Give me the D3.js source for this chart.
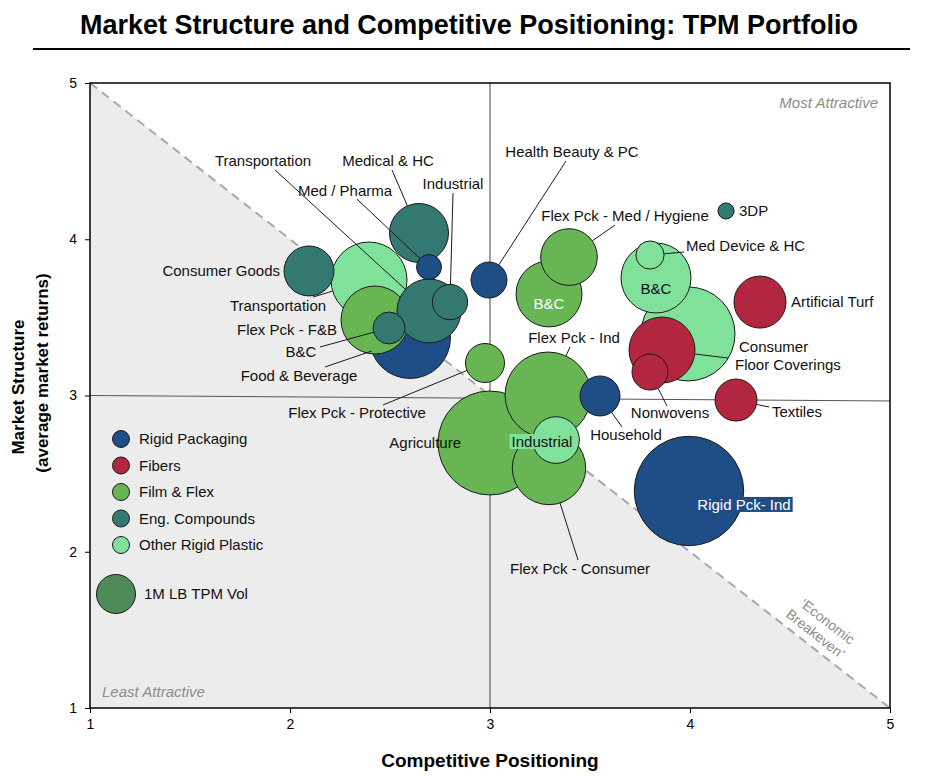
<!DOCTYPE html>
<html>
<head>
	<meta charset="UTF-8">
	<script src="https://d3js.org/d3.v7.min.js"></script>
	<style>
		body{
			margin: 0;
			background-color: #ffffff;
		}
		text{
			font-family: "Liberation Sans", Arial, sans-serif;
		}
	</style>
</head>
<body>
	<div class="chart"></div>
	<script type="text/javascript">
		// ---- data ----
		var segments = ["Rigid Packaging", "Fibers", "Film & Flex", "Eng. Compounds", "Other Rigid Plastic"];

		var markets = ["Medical & HC", "Med / Pharma", "Consumer Goods", "Transportation", "Flex Pck - F&B",
			"B&C", "Food & Beverage", "Transportation", "Industrial", "Health Beauty & PC",
			"Flex Pck - Protective", "Agriculture", "Flex Pck - Ind", "Industrial", "Flex Pck - Consumer",
			"Household", "Textiles", "Nonwovens", "Floor Coverings", "Consumer",
			"Rigid Pck- Ind", "Flex Pck - Med / Hygiene", "B&C", "3DP", "Med Device & HC",
			"B&C", "Artificial Turf"];

		// index into segments
		var marketSegment = [3, 0, 3, 4, 2,
			3, 0, 3, 3, 0,
			2, 2, 2, 4, 2,
			0, 1, 1, 1, 4,
			0, 2, 2, 3, 4,
			4, 1];

		var competitivePositioning = [2.645, 2.695, 2.095, 2.395, 2.425,
			2.495, 2.60, 2.695, 2.80, 2.995,
			2.975, 3.00, 3.29, 3.33, 3.295,
			3.55, 4.23, 3.80, 3.86, 3.99,
			3.995, 3.395, 3.295, 4.18, 3.80,
			3.83, 4.35];

		var marketStructure = [4.04, 3.822, 3.797, 3.739, 3.483,
			3.432, 3.368, 3.541, 3.598, 3.739,
			3.208, 2.696, 3.003, 2.715, 2.536,
			2.997, 2.971, 3.15, 3.291, 3.394,
			2.389, 3.886, 3.65, 4.181, 3.899,
			3.752, 3.598];

		// TPM volume, million lb
		var volumeMlb = [2.29, 0.41, 1.64, 3.80, 3.04,
			0.67, 4.31, 2.69, 0.82, 0.85,
			1.00, 7.11, 4.86, 1.43, 3.54,
			1.05, 1.16, 0.85, 2.86, 5.81,
			7.87, 2.11, 2.86, 0.17, 0.52,
			3.22, 1.78];

		var xTicks = [1, 2, 3, 4, 5];
		var yTicks = [1, 2, 3, 4, 5];

		// ---- styles / layout ----
		var segmentColors = ["#1f4e86", "#b22640", "#67b653", "#347872", "#80e29a"];

		// label offsets from bubble centre (px), leader start offset, anchor
		var labelLayout = [
			{dx: -31, dy: -67, anchor: "middle", lead: [-27, -63]},
			{dx: -84, dy: -71, anchor: "middle", lead: [-72, -68]},
			{dx: -29, dy: 5, anchor: "end", lead: null},
			{dx: -91, dy: 31, anchor: "middle", lead: [-56, 17]},
			{dx: -38, dy: 15, anchor: "end", lead: null},
			{dx: -88, dy: 29, anchor: "middle", lead: [-69, 19]},
			{dx: -111, dy: 43, anchor: "middle", lead: [-85, 29]},
			{dx: -166, dy: -145, anchor: "middle", lead: [-154, -141]},
			{dx: 3, dy: -113, anchor: "middle", lead: [3, -109]},
			{dx: 83, dy: -123, anchor: "middle", lead: [77, -119]},
			{dx: -128, dy: 55, anchor: "middle", lead: [-102, 42]},
			{dx: -29, dy: 5, anchor: "end", lead: null},
			{dx: 26, dy: -52, anchor: "middle", lead: [22, -48]},
			{dx: -14, dy: 7, anchor: "middle", lead: null, bg: "#80e29a"},
			{dx: 31, dy: 106, anchor: "middle", lead: [29, 92]},
			{dx: 26, dy: 44, anchor: "middle", lead: [22, 31]},
			{dx: 36, dy: 17, anchor: "start", lead: [33, 7]},
			{dx: 20, dy: 46, anchor: "middle", lead: [17, 34]},
			{dx: 73, dy: 20, anchor: "start", lead: [66, 8]},
			{dx: 51, dy: 18, anchor: "start", lead: null},
			{dx: 55, dy: 19, anchor: "middle", lead: null, bg: "#1f4e86", color: "#ffffff"},
			{dx: 56, dy: -36, anchor: "middle", lead: [46, -32]},
			{dx: 0, dy: 15, anchor: "middle", lead: null, color: "#ffffff"},
			{dx: 13, dy: 5, anchor: "start", lead: null},
			{dx: 36, dy: -4, anchor: "start", lead: [34, -3]},
			{dx: 0, dy: 16, anchor: "middle", lead: null},
			{dx: 31, dy: 5, anchor: "start", lead: null}
		];

		var w = 930;
		var h = 776;
		var l = 90, r = 890, t = 83, b = 708;

		var xScale = d3.scaleLinear().domain([1, 5]).range([l, r]);
		var yScale = d3.scaleLinear().domain([1, 5]).range([b, t]);
		var rScale = d3.scaleSqrt().domain([0, 1]).range([0, 19.5]);

		var svg = d3.select("div.chart")
					.append("svg")
					.attr("width", w)
					.attr("height", h);

		//title
		svg.append("text")
		   .attr("x", 469).attr("y", 34)
		   .attr("text-anchor", "middle")
		   .attr("textLength", 778)
		   .attr("lengthAdjust", "spacingAndGlyphs")
		   .style("font-family", "'Liberation Sans Narrow', 'Arial Narrow', 'Liberation Sans', sans-serif")
		   .style("font-size", "28px")
		   .style("font-weight", "bold")
		   .attr("fill", "#000")
		   .text("Market Structure and Competitive Positioning: TPM Portfolio");
		svg.append("line")
		   .attr("x1", 33).attr("x2", 910).attr("y1", 49).attr("y2", 49)
		   .attr("stroke", "#000").attr("stroke-width", 2);

		//least attractive triangle
		svg.append("path")
		   .attr("d", d3.line()([[xScale(1), yScale(5)], [xScale(5), yScale(1)], [xScale(1), yScale(1)]]) + "Z")
		   .attr("fill", "#ebeceb");

		//quadrant lines
		svg.append("line")
		   .attr("x1", xScale(3)).attr("x2", xScale(3))
		   .attr("y1", yScale(5)).attr("y2", yScale(1))
		   .attr("stroke", "#444").attr("stroke-width", 1);
		svg.append("line")
		   .attr("x1", xScale(1)).attr("x2", xScale(5))
		   .attr("y1", yScale(3)).attr("y2", yScale(2.965))
		   .attr("stroke", "#555").attr("stroke-width", 1);

		//economic breakeven diagonal
		svg.append("line")
		   .attr("x1", xScale(1)).attr("y1", yScale(5))
		   .attr("x2", xScale(5)).attr("y2", yScale(1))
		   .attr("stroke", "#a8a8a8").attr("stroke-width", 2)
		   .attr("stroke-dasharray", "9,6");

		var angle = Math.atan2(yScale(1) - yScale(5), xScale(5) - xScale(1)) * 180 / Math.PI;
		[["\u2018Economic", 4.6875, 1.554], ["Breakeven\u2019", 4.6275, 1.475]].forEach(function(s) {
			svg.append("text")
			   .attr("transform", "translate(" + xScale(s[1]) + "," + yScale(s[2]) + ") rotate(" + angle + ")")
			   .attr("text-anchor", "middle")
			   .attr("dy", "0.35em")
			   .style("font-size", "14px")
			   .attr("fill", "#8c8c8c")
			   .text(s[0]);
		});

		svg.append("text")
		   .attr("x", 878).attr("y", 108)
		   .attr("text-anchor", "end")
		   .style("font-size", "15px").style("font-style", "italic")
		   .attr("fill", "#8c8c8c")
		   .text("Most Attractive");
		svg.append("text")
		   .attr("x", 102).attr("y", 697)
		   .style("font-size", "15px").style("font-style", "italic")
		   .attr("fill", "#8c8c8c")
		   .text("Least Attractive");

		//bubbles
		var bubbles = markets.map(function(name, i) {
			return {
				name: name,
				seg: marketSegment[i],
				cx: xScale(competitivePositioning[i]),
				cy: yScale(marketStructure[i]),
				r: rScale(volumeMlb[i]),
				lay: labelLayout[i]
			};
		});
		var ordered = bubbles.slice().sort(function(a, b) { return b.r - a.r; });

		svg.append("g").selectAll("circle")
		   .data(ordered)
		   .enter()
		   .append("circle")
		   .attr("cx", function(d) { return d.cx; })
		   .attr("cy", function(d) { return d.cy; })
		   .attr("r", function(d) { return d.r; })
		   .attr("fill", function(d) { return segmentColors[d.seg]; })
		   .attr("stroke", "#1a1a1a")
		   .attr("stroke-width", 1);

		//leader lines
		svg.append("g").selectAll("line")
		   .data(bubbles.filter(function(d) { return d.lay.lead; }))
		   .enter()
		   .append("line")
		   .attr("x1", function(d) { return d.cx + d.lay.lead[0]; })
		   .attr("y1", function(d) { return d.cy + d.lay.lead[1]; })
		   .attr("x2", function(d) {
				var len = Math.hypot(d.lay.lead[0], d.lay.lead[1]);
				return d.cx + d.r * d.lay.lead[0] / len;
		   })
		   .attr("y2", function(d) {
				var len = Math.hypot(d.lay.lead[0], d.lay.lead[1]);
				return d.cy + d.r * d.lay.lead[1] / len;
		   })
		   .attr("stroke", "#1a1a1a")
		   .attr("stroke-width", 1);

		//labels
		var labels = svg.append("g").selectAll("text")
		   .data(bubbles)
		   .enter()
		   .append("text")
		   .attr("x", function(d) { return d.cx + d.lay.dx; })
		   .attr("y", function(d) { return d.cy + d.lay.dy; })
		   .attr("text-anchor", function(d) { return d.lay.anchor; })
		   .style("font-size", "15px")
		   .attr("fill", function(d) { return d.lay.color || "#111"; })
		   .text(function(d) { return d.name; });

		labels.each(function(d) {
			if (!d.lay.bg) return;
			var bb = this.getBBox();
			d3.select(this.parentNode).insert("rect", function() { return this; }.bind(this))
			  .attr("x", bb.x - 2).attr("y", bb.y + 1)
			  .attr("width", bb.width + 4).attr("height", bb.height - 2)
			  .attr("fill", d.lay.bg);
		});

		//frame
		svg.append("rect")
		   .attr("x", l).attr("y", t)
		   .attr("width", r - l).attr("height", b - t)
		   .attr("fill", "none")
		   .attr("stroke", "#000").attr("stroke-width", 1.5);

		//axes
		var yAxis = d3.axisLeft(yScale).tickValues(yTicks).tickSize(5).tickPadding(8).tickFormat(d3.format("d"));
		var xAxis = d3.axisBottom(xScale).tickValues(xTicks).tickSize(5).tickPadding(6).tickFormat(d3.format("d"));
		var gy = svg.append("g").attr("transform", "translate(" + l + ",0)").call(yAxis);
		var gx = svg.append("g").attr("transform", "translate(0," + b + ")").call(xAxis);
		[gx, gy].forEach(function(g) {
			g.select(".domain").remove();
			g.selectAll("text").style("font-size", "14px").attr("fill", "#000")
			 .style("font-family", "'Liberation Sans', Arial, sans-serif");
			g.selectAll("line").attr("stroke", "#000");
		});

		//axis titles
		svg.append("text")
		   .attr("x", (l + r) / 2).attr("y", 767)
		   .attr("text-anchor", "middle")
		   .style("font-size", "19px").style("font-weight", "bold")
		   .text("Competitive Positioning");
		svg.append("text")
		   .attr("transform", "translate(24,387) rotate(-90)")
		   .attr("text-anchor", "middle")
		   .style("font-size", "17px").style("font-weight", "bold")
		   .text("Market Structure");
		svg.append("text")
		   .attr("transform", "translate(48,373) rotate(-90)")
		   .attr("text-anchor", "middle")
		   .style("font-size", "17px").style("font-weight", "bold")
		   .text("(average market returns)");

		//legend
		var legend = svg.append("g").selectAll("g")
		   .data(segments)
		   .enter()
		   .append("g")
		   .attr("transform", function(d, i) { return "translate(121," + (439 + i * 26.5) + ")"; });
		legend.append("circle")
		   .attr("r", 8.5)
		   .attr("fill", function(d, i) { return segmentColors[i]; })
		   .attr("stroke", "#1a1a1a").attr("stroke-width", 1);
		legend.append("text")
		   .attr("x", 18).attr("dy", "0.35em")
		   .style("font-size", "15px")
		   .attr("fill", "#111")
		   .text(function(d) { return d; });

		svg.append("circle")
		   .attr("cx", 116).attr("cy", 594)
		   .attr("r", rScale(1))
		   .attr("fill", "#4f8a5a")
		   .attr("stroke", "#1a1a1a").attr("stroke-width", 1);
		svg.append("text")
		   .attr("x", 144).attr("y", 594).attr("dy", "0.35em")
		   .style("font-size", "15px")
		   .attr("fill", "#111")
		   .text("1M LB TPM Vol");
	</script>
</body>
</html>
